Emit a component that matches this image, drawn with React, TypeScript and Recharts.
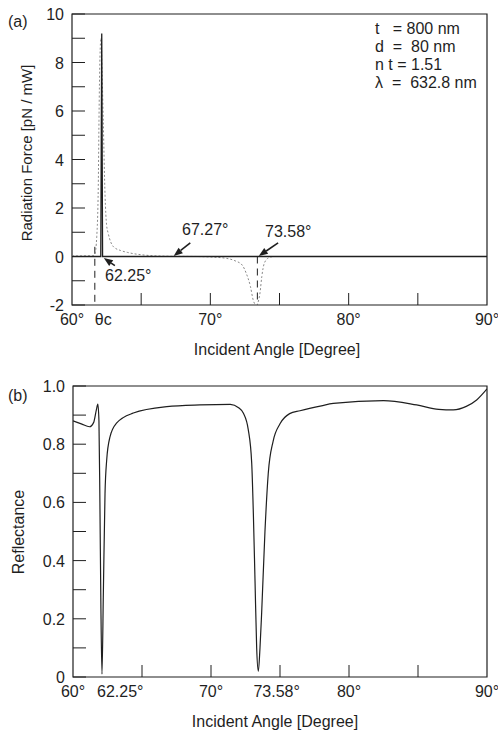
import React from 'react';
import { LineChart, Line, XAxis, YAxis, ReferenceArea, ReferenceLine } from 'recharts';

// (a) radiation force, solid trace
const solidAngles = [60, 62.08, 62.15, 62.21, 90];
const solidForce = [0, 0, 9.2, 0, 0];

// (a) radiation force, dotted trace
const dotAngles = [60, 61.5, 61.65, 61.79, 61.9, 61.95, 62.02, 62.1, 62.18, 62.26, 62.39, 62.5, 62.62, 63.0, 63.5, 64.0, 65.4, 67, 69, 70, 71.2, 71.8, 72.3, 72.6, 72.9, 73.1, 73.3, 73.4, 73.59, 73.72, 73.9, 74.2, 74.6, 90];
const dotForce = [0.02, 0.03, 0.1, 0.82, 2.9, 5.6, 8.2, 9.0, 7.5, 5.6, 2.5, 1.3, 0.95, 0.4, 0.25, 0.17, 0.05, 0.01, 0, -0.02, -0.08, -0.18, -0.35, -0.7, -1.24, -1.8, -2.0, -1.95, -1.5, -0.83, -0.28, -0.06, 0, 0];

// (b) reflectance
const reflAngles = [60, 60.6, 61.2, 61.5, 61.7, 61.8, 61.88, 61.95, 62.02, 62.1, 62.2, 62.32, 62.44, 62.68, 63.17, 64.37, 66.8, 69.2, 71.4, 72.0, 72.35, 72.7, 72.95, 73.07, 73.19, 73.31, 73.43, 73.55, 73.67, 73.91, 74.15, 74.5, 75.0, 75.7, 76.45, 78.0, 78.86, 82.5, 84.9, 86.5, 87.56, 88.5, 89.25, 90];
const reflectance = [0.88, 0.87, 0.86, 0.875, 0.92, 0.938, 0.88, 0.6, 0.25, 0.01, 0.29, 0.63, 0.745, 0.825, 0.873, 0.907, 0.929, 0.935, 0.937, 0.925, 0.906, 0.85, 0.735, 0.56, 0.33, 0.1, 0.02, 0.1, 0.22, 0.5, 0.7, 0.81, 0.87, 0.905, 0.915, 0.932, 0.94, 0.95, 0.935, 0.92, 0.918, 0.93, 0.952, 0.99];

const minorX = [65, 70, 75, 80, 85];
const xTicksA = [60, 61.65, 65, 70, 75, 80, 85, 90];
const xLabelsA: Record<string, string> = { '60': '60°', '61.65': 'θc', '70': '70°', '80': '80°', '90': '90°' };
const xTicksB = [60, 62.25, 65, 70, 73.58, 75, 80, 85, 90];
const xLabelsB: Record<string, string> = { '60': '60°', '62.25': '62.25°', '70': '70°', '73.58': '73.58°', '80': '80°', '90': '90°' };
const startLabels = ['61.65', '62.25', '73.58'];

const yTicksA = [-2, -1, 0, 1, 2, 3, 4, 5, 6, 7, 8, 9, 10];
const yLabelsA: Record<string, string> = { '-2': '-2', '0': '0', '2': '2', '4': '4', '6': '6', '8': '8', '10': '10' };
const yTicksB = [0, 0.1, 0.2, 0.3, 0.4, 0.5, 0.6, 0.7, 0.8, 0.9, 1.0];
const yLabelsB: Record<string, string> = { '0': '0', '0.2': '0.2', '0.4': '0.4', '0.6': '0.6', '0.8': '0.8', '1': '1.0' };

const params = ['t   = 800 nm', 'd  =  80 nm', 'n t = 1.51', 'λ  =  632.8 nm'];

const font = '"Liberation Sans", Arial, sans-serif';
const ink = '#1f1f1f';
const fs = 16;

const toRows = (xs: number[], ys: number[]) => xs.map((x, i) => ({ x, y: ys[i] }));

const makeXTick = (labels: Record<string, string>) => (props: any) => {
  const { x, y, payload } = props;
  const key = String(payload.value);
  const label = labels[key];
  const isStart = startLabels.includes(key);
  return (
    <g>
      {minorX.includes(payload.value) && <line x1={x} x2={x} y1={y} y2={y - 12} stroke={ink} strokeWidth={1} />}
      {label && (
        <text x={isStart ? (key === '61.65' ? x : x - 7) : x} y={y + 20} textAnchor={isStart ? 'start' : 'middle'}
          fontSize={fs} fontFamily={font} fill={ink}>{label}</text>
      )}
    </g>
  );
};

const makeYTick = (labels: Record<string, string>) => (props: any) => {
  const { x, y, payload } = props;
  const label = labels[String(Math.round(payload.value * 10) / 10)];
  return (
    <g>
      <line x1={x} x2={x + 13} y1={y} y2={y} stroke={ink} strokeWidth={1} />
      {label && <text x={x - 8} y={y + 6} textAnchor="end" fontSize={fs} fontFamily={font} fill={ink}>{label}</text>}
    </g>
  );
};

const Arrow = (props: any) => {
  const { x1, y1, x2, y2 } = props;
  const a = Math.atan2(y2 - y1, x2 - x1);
  const L = 9, W = 3.5;
  const bx = x2 - L * Math.cos(a), by = y2 - L * Math.sin(a);
  const p1 = `${bx + W * Math.sin(a)},${by - W * Math.cos(a)}`;
  const p2 = `${bx - W * Math.sin(a)},${by + W * Math.cos(a)}`;
  return (
    <g>
      <line x1={x1} y1={y1} x2={bx} y2={by} stroke={ink} strokeWidth={1.6} />
      <polygon points={`${x2},${y2} ${p1} ${p2}`} fill={ink} />
    </g>
  );
};

const Txt = ({ left, top, children, size = fs }: any) => (
  <div style={{ position: 'absolute', left, top, fontSize: size, lineHeight: `${size}px`, fontFamily: font, color: ink, whiteSpace: 'pre' }}>
    {children}
  </div>
);

const titleStyle: React.CSSProperties = {
  position: 'absolute', textAlign: 'center', fontSize: fs, lineHeight: `${fs}px`, fontFamily: font, color: ink, whiteSpace: 'pre',
};

export default function App() {
  return (
    <div style={{ position: 'absolute', left: 0, top: 0, width: 498, height: 739, background: '#fff' }}>
      <div style={{ position: 'absolute', left: 0, top: 0 }}>
        <LineChart width={498} height={340} margin={{ top: 14, right: 11, bottom: 5, left: 32 }}>
          <XAxis dataKey="x" type="number" domain={[60, 90]} ticks={xTicksA} interval={0} tickSize={0} tickMargin={0}
            axisLine={false} tick={makeXTick(xLabelsA)} height={30} allowDataOverflow />
          <YAxis type="number" domain={[-2, 10]} ticks={yTicksA} interval={0} tickSize={0} tickMargin={0}
            axisLine={false} tick={makeYTick(yLabelsA)} width={40} allowDataOverflow />
          <ReferenceArea x1={60} x2={90} y1={-2} y2={10} fill="none" stroke={ink} strokeWidth={1.2} />
          <ReferenceLine segment={[{ x: 61.65, y: 0.4 }, { x: 61.65, y: -2 }]} stroke={ink} strokeDasharray="7 5" />
          <ReferenceLine segment={[{ x: 73.4, y: 0 }, { x: 73.4, y: -2 }]} stroke={ink} strokeDasharray="7 5" />
          <Line data={toRows(dotAngles, dotForce)} dataKey="y" type="monotone" stroke="#8a8a8a" strokeWidth={1}
            strokeDasharray="2 2" dot={false} isAnimationActive={false} />
          <Line data={toRows(solidAngles, solidForce)} dataKey="y" type="linear" stroke={ink} strokeWidth={1.3}
            dot={false} isAnimationActive={false} />
          <ReferenceLine segment={[{ x: 68.55, y: 0.56 }, { x: 67.35, y: 0.02 }]} shape={Arrow} />
          <ReferenceLine segment={[{ x: 63.1, y: -0.38 }, { x: 62.3, y: -0.06 }]} shape={Arrow} />
          <ReferenceLine segment={[{ x: 74.9, y: 0.56 }, { x: 73.5, y: 0.02 }]} shape={Arrow} />
        </LineChart>
      </div>
      <div style={{ position: 'absolute', left: 0, top: 350 }}>
        <LineChart width={498} height={389} margin={{ top: 36, right: 11, bottom: 32, left: 33 }}>
          <XAxis dataKey="x" type="number" domain={[60, 90]} ticks={xTicksB} interval={0} tickSize={0} tickMargin={0}
            axisLine={false} tick={makeXTick(xLabelsB)} height={30} allowDataOverflow />
          <YAxis type="number" domain={[0, 1]} ticks={yTicksB} interval={0} tickSize={0} tickMargin={0}
            axisLine={false} tick={makeYTick(yLabelsB)} width={40} allowDataOverflow />
          <ReferenceArea x1={60} x2={90} y1={0} y2={1} fill="none" stroke={ink} strokeWidth={1.2} />
          <Line data={toRows(reflAngles, reflectance)} dataKey="y" type="monotone" stroke={ink} strokeWidth={1.2}
            dot={false} isAnimationActive={false} />
        </LineChart>
      </div>

      <Txt left={8} top={14}>(a)</Txt>
      <Txt left={8} top={388}>(b)</Txt>
      {params.map((p, i) => (
        <Txt key={p} left={375} top={21 + i * 18}>{p}</Txt>
      ))}
      <Txt left={182} top={222}>67.27°</Txt>
      <Txt left={105} top={268}>62.25°</Txt>
      <Txt left={265} top={224}>73.58°</Txt>

      <div style={{ ...titleStyle, left: 177, top: 342, width: 200 }}>Incident Angle [Degree]</div>
      <div style={{ ...titleStyle, left: 175, top: 714, width: 200 }}>Incident Angle [Degree]</div>
      <div style={{ ...titleStyle, left: 27 - 110, top: 153 - 8, width: 220, fontSize: 15, transform: 'rotate(-90deg)' }}>
        Radiation Force [pN / mW]
      </div>
      <div style={{ ...titleStyle, left: 19 - 60, top: 532 - 8, width: 120, transform: 'rotate(-90deg)' }}>
        Reflectance
      </div>
    </div>
  );
}
